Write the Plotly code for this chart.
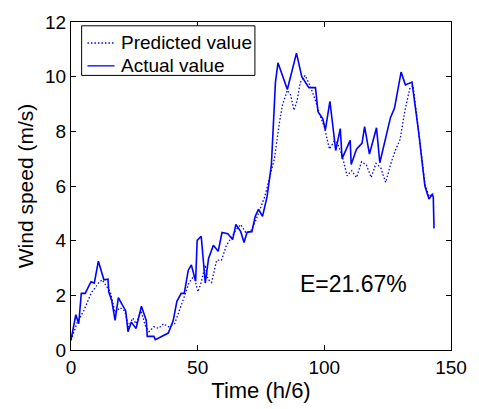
import plotly.graph_objects as go

# Actual value (solid) vertices
t_actual = [0, 1.9, 3.05, 4.07, 5.6, 7.9, 9.2, 10.8, 13, 14.6, 14.9, 16.1, 17.4, 18.7, 20.2, 21.6, 22.5,
            23.8, 25.7, 27.8, 29.7, 30.1, 32.7, 33.3, 38.4, 40.3, 41.8, 43.5, 44.7, 46.3, 47.5, 49.2,
            49.8, 51.4, 53, 54.3, 56.2, 58.1, 59.6, 61.9, 63.8, 65.1, 67, 68.3, 69.5, 71.4, 72.7, 74,
            75.6, 77.4, 79.1, 80.7, 81.7, 85.4, 89, 91.1, 93.9, 96.5, 97.5, 99.4, 100.4, 102.2, 104.5,
            106.3, 107, 110.2, 110.6, 112.7, 114.9, 115.9, 117.8, 120.6, 121.9, 126.1, 127.7, 130.3,
            132, 134.6, 137.2, 139.7, 141.3, 142.6, 143, 143.3]
v_actual = [0.36, 1.29, 0.96, 2.07, 2.07, 2.5, 2.45, 3.25, 2.57, 2.59, 2.13, 1.8, 1.08, 1.92, 1.66, 1.43, 0.67,
            1.02, 0.79, 1.60, 1.08, 0.5, 0.5, 0.38, 0.62, 1.06, 1.78, 2.07, 2.07, 2.92, 3.11, 2.52,
            4.01, 4.16, 2.45, 3.35, 3.83, 3.61, 4.30, 4.25, 4.04, 4.59, 4.33, 3.93, 4.31, 4.33, 4.88, 5.15,
            4.89, 5.61, 6.77, 9.79, 10.51, 9.53, 10.86, 10.0, 9.6, 9.6, 8.72, 8.46, 8.05, 9.1, 7.3,
            8.1, 7.0, 7.67, 6.79, 7.35, 7.57, 8.17, 7.17, 8.13, 6.85, 8.5, 8.85, 10.17,
            9.7, 9.8, 8.0, 6.0, 5.52, 5.7, 5.6, 4.45]

# Predicted value (dotted) vertices
t_pred = [0, 2.4, 5.3, 7.9, 11, 12.3, 15.5, 17.4, 19.3, 21.2, 22.8, 24.4, 25.7, 27.6, 29.5, 30.8, 32.7,
          34.6, 36.5, 38.4, 40.9, 42.8, 44.7, 46.6, 48.6, 50.1, 51.4, 53, 54, 55.5, 57.5, 59.4, 61.3,
          63.2, 65.1, 67, 68.9, 70.8, 72.7, 74.6, 76.5, 78.4, 80.3, 82.2, 83.5, 85.4, 86.7, 88, 89.2,
          90.5, 92.4, 94.3, 96.2, 98.1, 100, 102, 103.9, 105.1, 107, 109, 110.8, 112.7, 114.7, 116.6,
          118.5, 120.4, 122.3, 124.2, 126.1, 128, 129.9, 131.8, 133.7, 135, 136.9, 138.2, 139.7,
          141.3, 143]
v_pred = [0.36, 0.99, 1.49, 2.07, 2.47, 2.57, 2.13, 1.37, 1.55, 1.43, 0.85, 1.17, 0.96, 1.43, 0.85, 0.67, 0.85,
          0.79, 0.96, 0.85, 0.96, 1.43, 1.95, 2.47, 2.71, 2.13, 2.47, 3.11, 2.59, 2.47, 3.29, 3.29, 3.81,
          4.1, 4.39, 4.59, 4.31, 4.33, 4.68, 5.15, 5.61, 6.31, 7.0, 8.28, 8.98, 9.5, 9.33, 8.77, 9.1,
          9.79, 10.05, 9.68, 9.21, 8.63, 8.17, 7.35, 7.64, 7.59, 7.12, 6.37, 6.56, 6.31, 6.89, 6.77,
          6.31, 6.83, 6.66, 6.13, 6.77, 7.30, 7.70, 8.75, 9.56, 9.68, 8.28, 7.24, 6.08,
          5.61, 5.73]

series_names = ["Predicted value", "Actual value"]
x_ticks = [0, 50, 100, 150]
y_ticks = [0, 2, 4, 6, 8, 10, 12]

FONT = "Liberation Sans, Arial, sans-serif"
BLUE = "#0000FF"
DOT = "1.5px,2px"

fig = go.Figure()
fig.add_trace(go.Scatter(x=t_pred, y=v_pred, mode="lines", name=series_names[0],
                         line=dict(color=BLUE, width=1.3, dash=DOT), showlegend=False))
fig.add_trace(go.Scatter(x=t_actual, y=v_actual, mode="lines", name=series_names[1],
                         line=dict(color=BLUE, width=1.6), showlegend=False))

axis_common = dict(showline=True, linecolor="black", linewidth=1, mirror="ticks",
                   ticks="inside", ticklen=5, tickcolor="black", showgrid=False,
                   zeroline=False, tickfont=dict(family=FONT, size=19, color="black"))

fig.update_xaxes(range=[0, 150], tickvals=x_ticks,
                 title=dict(text="Time (h/6)", font=dict(family=FONT, size=22, color="black"), standoff=4),
                 **axis_common)
fig.update_yaxes(range=[0, 12], tickvals=y_ticks,
                 title=dict(text="Wind speed (m/s)", font=dict(family=FONT, size=21, color="black"), standoff=5),
                 **axis_common)

fig.add_annotation(x=111.6, y=2.41, xref="x", yref="y", text="E=21.67%", showarrow=False,
                   font=dict(family=FONT, size=23, color="black"))

# Legend box (MATLAB-style)
fig.add_shape(type="rect", xref="x domain", yref="y domain", x0=0.0280, x1=0.4840, y0=0.8372, y1=0.9884,
              line=dict(color="black", width=1), fillcolor="white", layer="above")
rows_y = [0.9360, 0.8663]
dashes = [DOT, "solid"]
for name, ry, dsh in zip(series_names, rows_y, dashes):
    fig.add_shape(type="line", xref="x domain", yref="y domain", x0=0.0433, x1=0.1145, y0=ry, y1=ry,
                  line=dict(color=BLUE, width=1.3, dash=dsh), layer="above")
    fig.add_annotation(x=0.1250, y=ry, xref="x domain", yref="y domain", text=name, showarrow=False,
                       xanchor="left", yanchor="middle",
                       font=dict(family=FONT, size=19, color="black"))

fig.update_layout(
    width=479, height=409,
    margin=dict(l=71, r=16, t=17, b=48),
    paper_bgcolor="white", plot_bgcolor="white",
    font=dict(family=FONT, color="black"),
    showlegend=False,
)

fig.write_html("out.html")
